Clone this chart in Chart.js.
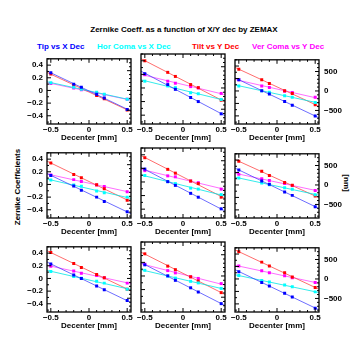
<!DOCTYPE html>
<html>
<head>
<meta charset="utf-8">
<script src="https://cdn.jsdelivr.net/npm/chart.js@4.4.1/dist/chart.umd.min.js"></script>
<style>
html, body { margin: 0; padding: 0; background: #fff; overflow: hidden; width: 355px; height: 347px; }
#wrap { position: relative; width: 355px; height: 347px; font-family: "Liberation Sans", Arial, sans-serif; font-weight: bold; font-size: 8px; }
canvas { position: absolute; }
.lbl { position: absolute; white-space: nowrap; line-height: 10px; }
.rot { width: 100px; height: 10px; text-align: center; }
</style>
</head>
<body>
<div id="wrap">
    <div class="lbl" style="left:0; width:368px; text-align:center; top:25px;">Zernike Coeff. as a function of X/Y dec by ZEMAX</div>
    <div class="lbl" style="left:37px; top:42px; color:#0000ff;">Tip vs X Dec</div>
    <div class="lbl" style="left:97px; top:42px; color:#00ffff;">Hor Coma vs X Dec</div>
    <div class="lbl" style="left:192px; top:42px; color:#ff0000;">Tilt vs Y Dec</div>
    <div class="lbl" style="left:252px; top:42px; color:#ff00ff;">Ver Coma vs Y Dec</div>
    <div class="lbl rot" style="left:-32px; top:182px; transform:rotate(-90deg);">Zernike Coefficients</div>
    <div class="lbl rot" style="left:296px; top:178px; transform:rotate(90deg);">[nm]</div>
</div>
<script>
// decenter positions [mm]
const xDec = [-0.5, -0.2, -0.1, 0.1, 0.2, 0.5];

// one row per panel, row-major order (top-left first)
const tip = [
    [0.28, 0.10, 0.05, -0.06, -0.12, -0.30],
    [0.21, 0.05, -0.02, -0.14, -0.20, -0.38],
    [0.18, 0.005, -0.05, -0.17, -0.23, -0.40],
    [0.143, -0.024, -0.09, -0.20, -0.27, -0.43],
    [0.19, 0.005, -0.05, -0.167, -0.224, -0.395],
    [0.24, 0.062, 0.01, -0.114, -0.167, -0.35],
    [0.23, 0.055, 0, -0.12, -0.18, -0.35],
    [0.164, 0.002, -0.064, -0.174, -0.236, -0.407],
    [0.117, -0.055, -0.112, -0.23, -0.288, -0.469]
];
const horComa = [
    [0.12, 0.05, 0.02, -0.03, -0.06, -0.14],
    [0.10, 0.03, 0.005, -0.07, -0.085, -0.17],
    [0.08, 0.005, -0.02, -0.076, -0.10, -0.186],
    [0.07, -0.01, -0.03, -0.105, -0.13, -0.20],
    [0.095, 0.005, -0.024, -0.09, -0.105, -0.186],
    [0.11, 0.033, 0.005, -0.043, -0.067, -0.157],
    [0.11, 0.03, 0.002, -0.045, -0.074, -0.17],
    [0.083, -0.002, -0.031, -0.079, -0.102, -0.183],
    [0.055, -0.026, -0.05, -0.098, -0.126, -0.207]
];
const tilt = [
    [0.26, 0.08, 0.03, -0.08, -0.13, -0.31],
    [0.40, 0.23, 0.17, 0.05, 0.005, -0.18],
    [0.35, 0.18, 0.12, 0.005, -0.04, -0.22],
    [0.34, 0.157, 0.105, -0.005, -0.067, -0.25],
    [0.357, 0.186, 0.13, 0.014, -0.024, -0.224],
    [0.38, 0.22, 0.152, 0.038, -0.005, -0.176],
    [0.41, 0.236, 0.174, 0.064, 0.012, -0.17],
    [0.326, 0.145, 0.093, -0.012, -0.074, -0.245],
    [0.436, 0.27, 0.207, 0.098, 0.03, -0.136]
];
const verComa = [
    [0.11, 0.04, 0.01, -0.04, -0.07, -0.14],
    [0.195, 0.10, 0.07, 0.02, 0, -0.08],
    [0.18, 0.08, 0.057, -0.005, -0.024, -0.10],
    [0.15, 0.076, 0.048, -0.01, -0.033, -0.114],
    [0.167, 0.09, 0.076, 0.014, -0.01, -0.105],
    [0.17, 0.10, 0.07, 0.024, -0.01, -0.09],
    [0.193, 0.117, 0.083, 0.045, 0.012, -0.074],
    [0.174, 0.079, 0.045, -0.012, -0.036, -0.112],
    [0.207, 0.131, 0.098, 0.05, 0.021, -0.055]
];

// axis ticks
const xMajor = [-0.5, 0, 0.5];
const xMinor = [-0.4, -0.3, -0.2, -0.1, 0.1, 0.2, 0.3, 0.4];
const yMajor = [-0.4, -0.2, 0, 0.2, 0.4];
const yMinor = [-0.5, -0.3, -0.1, 0.1, 0.3, 0.5];
const nmMajor = [-500, 0, 500];
const nmMinor = [-800, -700, -600, -400, -300, -200, -100, 100, 200, 300, 400, 600, 700];
const nmPerWave = 1600;

const series = [
    { vals: tip, color: '#0000ff', line: 'rgba(60,60,255,0.75)' },
    { vals: horComa, color: '#00ffff', line: 'rgba(0,230,230,0.8)' },
    { vals: tilt, color: '#ff0000', line: 'rgba(255,60,60,0.75)' },
    { vals: verComa, color: '#ff00ff', line: 'rgba(255,60,255,0.75)' }
];

const xMin = -0.55, xMax = 0.55, yMin = -0.53, yMax = 0.5;
const panelLeft = [47, 141, 235];
const panelTop = [52, 146, 240];
const PW = 84, PH = 72;
const L = 44, R = 42, T = 2, B = 20;
const tickFont = { family: '"Liberation Sans", Arial, sans-serif', size: 8, weight: 'bold' };

// least squares straight line through a panel's points, drawn edge to edge
function fitLine(ys) {
    const n = xDec.length;
    let sx = 0, sy = 0, sxx = 0, sxy = 0;
    for (let i = 0; i < n; i++) {
        sx += xDec[i]; sy += ys[i]; sxx += xDec[i] * xDec[i]; sxy += xDec[i] * ys[i];
    }
    const m = (n * sxy - sx * sy) / (n * sxx - sx * sx);
    const b = (sy - m * sx) / n;
    return [{ x: xMin, y: b + m * xMin }, { x: xMax, y: b + m * xMax }];
}

// box frame with inward ticks on all four sides
const frameTicks = {
    id: 'frameTicks',
    afterDatasetsDraw(chart) {
        const { ctx, chartArea: a, scales } = chart;
        ctx.save();
        ctx.strokeStyle = '#000';
        ctx.lineWidth = 1;
        const seg = (x1, y1, x2, y2) => { ctx.beginPath(); ctx.moveTo(x1, y1); ctx.lineTo(x2, y2); ctx.stroke(); };
        const xt = (vals, len) => vals.forEach(v => {
            const p = scales.x.getPixelForValue(v);
            seg(p, a.bottom, p, a.bottom - len);
            seg(p, a.top, p, a.top + len);
        });
        xt(xMinor, 2); xt(xMajor, 4);
        const yt = (vals, len) => vals.forEach(v => {
            const p = scales.y.getPixelForValue(v);
            seg(a.left, p, a.left + len, p);
        });
        yt(yMinor, 2); yt(yMajor, 4);
        const rt = (vals, len) => vals.forEach(v => {
            const p = scales.y2.getPixelForValue(v);
            seg(a.right, p, a.right - len, p);
        });
        rt(nmMinor, 2); rt(nmMajor, 4);
        ctx.lineWidth = 1.3;
        ctx.strokeRect(a.left, a.top, a.right - a.left, a.bottom - a.top);
        ctx.restore();
    }
};

const minusFmt = v => String(v).replace('-', '\u2212');

const wrap = document.getElementById('wrap');
for (let r = 0; r < 3; r++) {
    for (let c = 0; c < 3; c++) {
        const k = r * 3 + c;
        const cv = document.createElement('canvas');
        cv.width = L + PW + R;
        cv.height = T + PH + B;
        cv.style.left = (panelLeft[c] - L) + 'px';
        cv.style.top = (panelTop[r] - T) + 'px';
        wrap.appendChild(cv);

        const pointSets = series.map(s => ({
            data: xDec.map((x, i) => ({ x: x, y: s.vals[k][i] })),
            backgroundColor: s.color,
            borderWidth: 0,
            pointStyle: 'rect',
            pointRadius: 2.1,
            showLine: false
        }));
        const lineSets = series.map(s => ({
            data: fitLine(s.vals[k]),
            borderColor: s.line,
            borderWidth: 1,
            pointRadius: 0,
            showLine: true
        }));

        new Chart(cv, {
            type: 'scatter',
            data: { datasets: pointSets.concat(lineSets) },
            options: {
                responsive: false,
                animation: false,
                devicePixelRatio: 1,
                layout: { padding: { top: T, left: 0, right: 0, bottom: 0 } },
                plugins: { legend: { display: false }, tooltip: { enabled: false } },
                scales: {
                    x: {
                        type: 'linear', min: xMin, max: xMax,
                        grid: { display: false, drawTicks: false, tickLength: 0 },
                        border: { display: false },
                        afterBuildTicks: s => { s.ticks = xMajor.map(v => ({ value: v })); },
                        ticks: { font: tickFont, color: '#000', padding: 1, maxRotation: 0, autoSkip: false, callback: minusFmt },
                        title: { display: true, text: 'Decenter [mm]', font: tickFont, color: '#000', padding: { top: 0, bottom: 1 } },
                        afterFit: s => { s.height = B; }
                    },
                    y: {
                        type: 'linear', position: 'left', min: yMin, max: yMax,
                        grid: { display: false, drawTicks: false, tickLength: 0 },
                        border: { display: false },
                        afterBuildTicks: s => { s.ticks = yMajor.map(v => ({ value: v })); },
                        ticks: { display: c === 0, font: tickFont, color: '#000', padding: 4, callback: minusFmt },
                        afterFit: s => { s.width = L; }
                    },
                    y2: {
                        type: 'linear', position: 'right', min: yMin * nmPerWave, max: yMax * nmPerWave,
                        grid: { display: false, drawTicks: false, tickLength: 0 },
                        border: { display: false },
                        afterBuildTicks: s => { s.ticks = nmMajor.map(v => ({ value: v })); },
                        ticks: { display: c === 2, font: tickFont, color: '#000', padding: 5, callback: minusFmt },
                        afterFit: s => { s.width = R; }
                    }
                }
            },
            plugins: [frameTicks]
        });
    }
}
</script>
</body>
</html>
